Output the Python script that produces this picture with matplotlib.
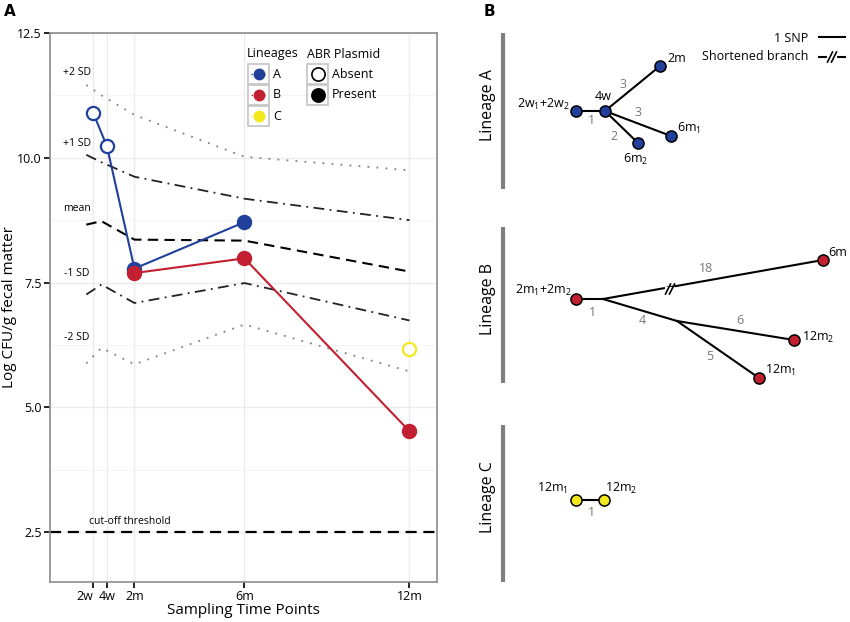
import numpy as np
import matplotlib.pyplot as plt
from matplotlib.patches import Rectangle

plt.rcParams['font.family'] = ['Open Sans', 'DejaVu Sans']

# panel A data (x in months)
sd_x = [0.25, 0.8, 2, 6, 12]
sd_plus2 = [11.46, 11.25, 10.86, 10.02, 9.75]
sd_plus1 = [10.06, 9.91, 9.62, 9.18, 8.75]
sd_mean = [8.66, 8.73, 8.36, 8.34, 7.72]
sd_minus1 = [7.26, 7.46, 7.09, 7.49, 6.74]
sd_minus2 = [5.88, 6.19, 5.86, 6.66, 5.72]
cutoff = 2.5

time_ticks = [0.5, 1, 2, 6, 12]
time_labels = ['2w', '4w', '2m', '6m', '12m']

a_x = [0.5, 1, 2, 6]
a_y = [10.9, 10.23, 7.78, 8.71]
a_plasmid = [False, False, True, True]
b_x = [2, 6, 12]
b_y = [7.69, 7.985, 4.52]
b_plasmid = [True, True, True]
c_x = [12]
c_y = [6.16]
c_plasmid = [False]

blue = '#20409b'
red = '#c21f30'
yellow = '#f2e81c'

# panel B network layout (pixel units)
netA_nodes = {'2w': (576, 111), '4w': (605, 111), '2m': (660, 66), '6m1': (671, 136), '6m2': (638, 143)}
netA_edges = [('2w', '4w'), ('4w', '2m'), ('4w', '6m1'), ('4w', '6m2')]
netA_labels = [('2w$_\\mathregular{1}$+2w$_\\mathregular{2}$', 543, 104), ('4w', 603, 97), ('2m', 677, 58),
               ('6m$_\\mathregular{1}$', 689, 128), ('6m$_\\mathregular{2}$', 636, 159)]
netA_snps = [('1', 591, 121), ('3', 623, 84), ('3', 638, 113), ('2', 614, 136)]

netB_nodes = {'2m': (576, 299), 'j1': (603, 299), '6m': (823, 260), 'j2': (677, 321), '12m2': (794, 340), '12m1': (759, 378)}
netB_edges = [('2m', 'j1'), ('j1', '6m'), ('j1', 'j2'), ('j2', '12m2'), ('j2', '12m1')]
netB_labels = [('2m$_\\mathregular{1}$+2m$_\\mathregular{2}$', 543, 290), ('6m', 838, 253),
               ('12m$_\\mathregular{2}$', 818, 337), ('12m$_\\mathregular{1}$', 781, 370)]
netB_snps = [('1', 592, 312), ('4', 642, 320), ('18', 706, 269), ('6', 740, 320), ('5', 710, 356)]

netC_nodes = {'12m1': (576, 500), '12m2': (604, 500)}
netC_edges = [('12m1', '12m2')]
netC_labels = [('12m$_\\mathregular{1}$', 553, 488), ('12m$_\\mathregular{2}$', 621, 488)]
netC_snps = [('1', 591, 512)]

fig = plt.figure(figsize=(8.5, 6.22), dpi=100)
ax = fig.add_axes([50 / 850, 40 / 622, 387 / 850, 549 / 622])

# reference bands
ax.plot(sd_x, sd_plus2, color='#808080', lw=1.3, ls=(0, (1, 4)), zorder=2)
ax.plot(sd_x, sd_plus1, color='#222222', lw=1.3, ls=(0, (6, 3, 1, 3)), zorder=2)
ax.plot(sd_x, sd_mean, color='black', lw=1.5, ls=(0, (5, 3)), zorder=2)
ax.plot(sd_x, sd_minus1, color='#222222', lw=1.3, ls=(0, (6, 3, 1, 3)), zorder=2)
ax.plot(sd_x, sd_minus2, color='#808080', lw=1.3, ls=(0, (1, 4)), zorder=2)
ax.axhline(cutoff, color='black', lw=1.6, ls=(0, (5, 3)), zorder=2)

band_text = [('+2 SD', 11.7), ('+1 SD', 10.28), ('mean', 8.98), ('-1 SD', 7.69), ('-2 SD', 6.39)]
for t, yy in band_text:
    ax.text(-0.1, yy, t, fontsize=7.5, ha='center', va='center')
ax.text(1.82, 2.72, 'cut-off threshold', fontsize=7.5, ha='center', va='center')


def draw_series(xs, ys, present, col):
    ax.plot(xs, ys, color=col, lw=1.5, zorder=3)
    for x, y, p in zip(xs, ys, present):
        ax.plot(x, y, 'o', ms=9.5, mfc=col if p else 'white', mec=col, mew=1.6, zorder=4)


draw_series(a_x, a_y, a_plasmid, blue)
draw_series(b_x, b_y, b_plasmid, red)
draw_series(c_x, c_y, c_plasmid, yellow)

ax.set_xlim(-1.07, 13.0)
ax.set_ylim(1.5, 12.5)
ax.set_xticks(time_ticks)
ax.set_xticklabels(time_labels)
ax.get_xticklabels()[0].set_ha('right')
ax.set_yticks([2.5, 5.0, 7.5, 10.0, 12.5])
ax.set_yticklabels(['2.5', '5.0', '7.5', '10.0', '12.5'])
ax.set_yticks([3.75, 6.25, 8.75, 11.25], minor=True)
ax.tick_params(axis='y', which='minor', length=0)
ax.grid(True, which='major', color='#ebebeb', lw=1.0, zorder=0)
ax.grid(True, which='minor', axis='y', color='#f5f5f5', lw=0.8, zorder=0)
ax.set_axisbelow(True)
ax.tick_params(which='major', length=4, width=1.2, color='black', labelsize=9, pad=2)
for s in ax.spines.values():
    s.set_color('#8c8c8c')
    s.set_linewidth(1.2)
ax.set_xlabel('Sampling Time Points', fontsize=11, labelpad=0)
ax.set_ylabel('Log CFU/g fecal matter', fontsize=11)
ax.yaxis.set_label_coords(-0.085, 0.5)

# overlay in pixel units for legend and panel B
ov = fig.add_axes([0, 0, 1, 1])
ov.set_xlim(0, 850)
ov.set_ylim(622, 0)
ov.axis('off')
ov.patch.set_alpha(0)

ov.text(4, 12, 'A', fontsize=11, fontweight='bold', ha='left', va='center', family='DejaVu Sans')
ov.text(484, 12, 'B', fontsize=11, fontweight='bold', ha='left', va='center', family='DejaVu Sans')

# legend of panel A
ov.text(247, 54, 'Lineages', fontsize=9, ha='left', va='center')
ov.text(307, 54, 'ABR Plasmid', fontsize=9, ha='left', va='center')
for i, (lab, col) in enumerate([('A', blue), ('B', red), ('C', yellow)]):
    yc = 74 + i * 21
    ov.add_patch(Rectangle((248.5, yc - 10), 21, 20, fc='white', ec='#c8c8c8', lw=1.3))
    ov.plot([251, 267], [yc, yc], color=col, lw=1, ls=(0, (1, 2)))
    ov.plot(259, yc, 'o', ms=7.5, color=col)
    ov.text(273, yc, lab, fontsize=9, ha='left', va='center')
for i, (lab, fill) in enumerate([('Absent', 'white'), ('Present', 'black')]):
    yc = 74 + i * 21
    ov.add_patch(Rectangle((307.5, yc - 10), 21, 20, fc='white', ec='#c8c8c8', lw=1.3))
    ov.plot(318, yc, 'o', ms=9.5, mfc=fill, mec='black', mew=1.2)
    ov.text(332, yc, lab, fontsize=9, ha='left', va='center')


def draw_net(nodes, edges, labels, snps, col, bar_top, bar_bot, title):
    ov.plot([503, 503], [bar_top, bar_bot], color='#7f7f7f', lw=3, solid_capstyle='butt')
    ov.text(488, (bar_top + bar_bot) / 2 - 6, title, rotation=90, fontsize=11.5, ha='center', va='center')
    for a, b in edges:
        ov.plot([nodes[a][0], nodes[b][0]], [nodes[a][1], nodes[b][1]], color='black', lw=1.5, zorder=2)
    for name, (x, y) in nodes.items():
        if not name.startswith('j'):
            ov.plot(x, y, 'o', ms=8, mfc=col, mec='black', mew=1.1, zorder=3)
    for t, x, y in labels:
        ov.text(x, y, t, fontsize=9, ha='center', va='center')
    for t, x, y in snps:
        ov.text(x, y, t, fontsize=9, ha='center', va='center', color='#777777')


draw_net(netA_nodes, netA_edges, netA_labels, netA_snps, blue, 33, 189, 'Lineage A')
draw_net(netB_nodes, netB_edges, netB_labels, netB_snps, red, 227, 383, 'Lineage B')
draw_net(netC_nodes, netC_edges, netC_labels, netC_snps, yellow, 425, 582, 'Lineage C')


def break_mark(x, y):
    ov.plot([x - 3, x + 3], [y, y], color='white', lw=3, zorder=4)
    for dx in (-2, 2):
        ov.plot([x + dx - 2.5, x + dx + 2.5], [y + 5, y - 5], color='black', lw=1.2, zorder=5)


break_mark(670, 289)

# branch legend
ov.text(808, 38, '1 SNP', fontsize=9, ha='right', va='center')
ov.plot([819, 845], [37, 37], color='black', lw=1.5)
ov.text(808, 56, 'Shortened branch', fontsize=9, ha='right', va='center')
ov.plot([819, 845], [57, 57], color='black', lw=1.5)
break_mark(832, 57)

fig.savefig('out.png', dpi=100)
